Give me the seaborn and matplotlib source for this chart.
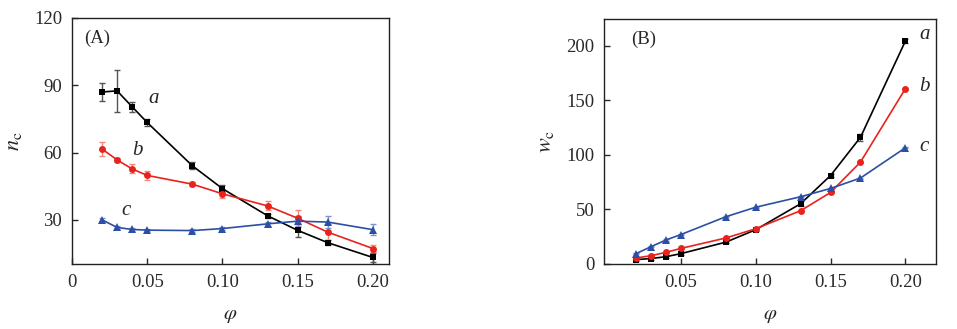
import numpy as np
import pandas as pd
import matplotlib
matplotlib.use("Agg")
import matplotlib.pyplot as plt
import seaborn as sns

# volume fraction
phi = [0.02, 0.03, 0.04, 0.05, 0.08, 0.10, 0.13, 0.15, 0.17, 0.20]

# (A) n_c for series a, b, c with error bars
nc_a = [87.0, 87.5, 80.4, 73.4, 54.1, 43.9, 31.8, 25.3, 19.8, 13.2]
nc_a_err = [4.0, 9.5, 2.3, 1.6, 1.5, 1.5, 0.8, 3.0, 1.0, 1.8]
nc_b = [61.6, 56.7, 52.7, 49.8, 45.9, 41.6, 36.2, 30.7, 24.5, 17.2]
nc_b_err = [3.0, 0.8, 2.0, 2.0, 0.8, 2.0, 2.0, 3.5, 3.5, 1.5]
nc_c = [30.0, 26.6, 25.7, 25.4, 25.2, 26.1, 28.2, 29.4, 29.0, 25.6]
nc_c_err = [0.6, 0.6, 0.8, 0.6, 0.6, 0.6, 1.0, 2.5, 2.5, 2.5]

# (B) w_c for series a, b, c with error bars
wc_a = [4.0, 5.0, 6.7, 9.5, 20.0, 31.4, 55.2, 81.0, 116.0, 204.0]
wc_a_err = [1.0, 1.0, 1.0, 1.5, 1.0, 1.0, 2.5, 1.0, 3.5, 2.0]
wc_b = [5.5, 7.6, 10.7, 14.3, 23.8, 32.3, 48.8, 65.5, 93.3, 160.4]
wc_b_err = [0.5, 0.5, 0.5, 0.5, 0.5, 0.5, 0.5, 0.5, 0.5, 0.5]
wc_c = [9.5, 15.9, 22.0, 27.0, 43.3, 52.0, 61.6, 69.2, 78.7, 106.4]
wc_c_err = [0.5, 0.5, 0.5, 0.5, 0.5, 0.5, 0.5, 0.5, 0.5, 0.5]

series_names = ["a", "b", "c"]
line_colors = ["#000000", "#e8231d", "#2c4fa6"]
err_colors = ["#555555", "#f08a78", "#7d95d0"]
markers = ["s", "o", "^"]
marker_sizes = [4.8, 5.0, 5.5]

sns.set_style("ticks")
plt.rcParams["font.family"] = ["Liberation Serif", "DejaVu Serif"]
plt.rcParams["mathtext.fontset"] = "stix"

fig = plt.figure(figsize=(9.57, 3.29), dpi=100)
axA = fig.add_axes([0.0752, 0.1976, 0.3313, 0.7477])
axB = fig.add_axes([0.6311, 0.1976, 0.3469, 0.7446])


def draw_panel(ax, ys, errs):
    for name, y, e, lc, ec, m, ms in zip(series_names, ys, errs, line_colors,
                                         err_colors, markers, marker_sizes):
        ax.errorbar(phi, y, yerr=e, fmt="none", ecolor=ec, elinewidth=1.0,
                    capsize=2.5, capthick=1.0, zorder=2)
        df = pd.DataFrame({"phi": phi, "val": y})
        sns.lineplot(data=df, x="phi", y="val", color=lc, marker=m,
                     markersize=ms, markeredgewidth=0,
                     linewidth=1.2, ax=ax, zorder=3)
    for s in ax.spines.values():
        s.set_linewidth(1.0)
        s.set_color("#222222")
    ax.tick_params(direction="in", length=4, width=1.0, labelsize=13.5,
                   colors="#2a2a2a", pad=7)
    ax.set_xlabel(r"$\varphi$", fontsize=15, labelpad=11)


draw_panel(axA, [nc_a, nc_b, nc_c], [nc_a_err, nc_b_err, nc_c_err])
axA.set_xlim(0, 0.2107)
axA.set_ylim(10.3, 120)
axA.set_xticks([0, 0.05, 0.10, 0.15, 0.20])
axA.set_xticklabels(["0", "0.05", "0.10", "0.15", "0.20"])
axA.set_yticks([30, 60, 90, 120])
axA.set_ylabel(r"$n_{\mathrm{c}}$", fontsize=16, labelpad=7)
axA.text(0.008, 111, "(A)", fontsize=13.5, va="center")
axA.text(0.051, 84, "a", fontsize=15, style="italic", va="center")
axA.text(0.040, 61, "b", fontsize=15, style="italic", va="center")
axA.text(0.033, 34, "c", fontsize=15, style="italic", va="center")

draw_panel(axB, [wc_a, wc_b, wc_c], [wc_a_err, wc_b_err, wc_c_err])
axB.set_xlim(-0.0015, 0.2205)
axB.set_ylim(0, 224.4)
axB.set_xticks([0.05, 0.10, 0.15, 0.20])
axB.set_xticklabels(["0.05", "0.10", "0.15", "0.20"])
axB.set_yticks([0, 50, 100, 150, 200])
axB.set_ylabel(r"$w_{\mathrm{c}}$", fontsize=16, labelpad=7)
axB.text(0.0165, 206, "(B)", fontsize=13.5, va="center")
axB.text(0.2095, 210, "a", fontsize=15, style="italic", va="center")
axB.text(0.2095, 163, "b", fontsize=15, style="italic", va="center")
axB.text(0.2095, 108, "c", fontsize=15, style="italic", va="center")

fig.savefig("out.png", dpi=100)
